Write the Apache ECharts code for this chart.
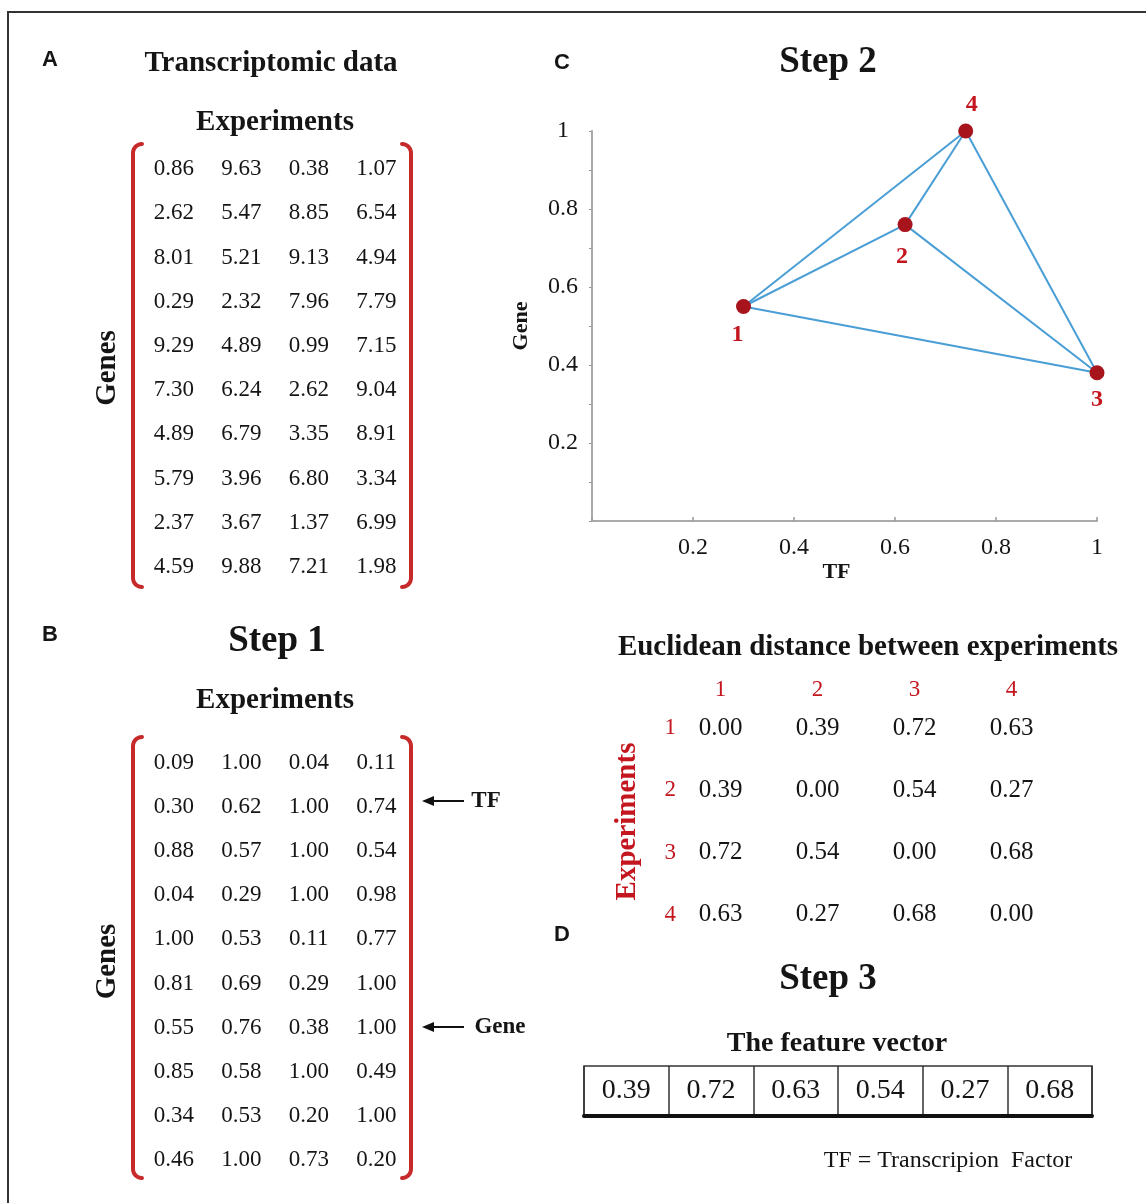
<!DOCTYPE html>
<html>
<head>
<meta charset="utf-8">
<style>html,body{margin:0;padding:0;background:#fff}#c{width:1146px;height:1203px}</style>
<script src="https://cdn.jsdelivr.net/npm/echarts@6/dist/echarts.min.js"></script>
</head>
<body>
<div id="c"></div>
<script>
// ---------- DATA ----------
const experiments = ['1', '2', '3', '4'];
const rawMatrix = [
  [0.86, 9.63, 0.38, 1.07],
  [2.62, 5.47, 8.85, 6.54],
  [8.01, 5.21, 9.13, 4.94],
  [0.29, 2.32, 7.96, 7.79],
  [9.29, 4.89, 0.99, 7.15],
  [7.30, 6.24, 2.62, 9.04],
  [4.89, 6.79, 3.35, 8.91],
  [5.79, 3.96, 6.80, 3.34],
  [2.37, 3.67, 1.37, 6.99],
  [4.59, 9.88, 7.21, 1.98]
];
const normMatrix = [
  [0.09, 1.00, 0.04, 0.11],
  [0.30, 0.62, 1.00, 0.74],
  [0.88, 0.57, 1.00, 0.54],
  [0.04, 0.29, 1.00, 0.98],
  [1.00, 0.53, 0.11, 0.77],
  [0.81, 0.69, 0.29, 1.00],
  [0.55, 0.76, 0.38, 1.00],
  [0.85, 0.58, 1.00, 0.49],
  [0.34, 0.53, 0.20, 1.00],
  [0.46, 1.00, 0.73, 0.20]
];
const tfRowIndex = 1;
const geneRowIndex = 6;
const tfValues = normMatrix[tfRowIndex];      // x of the 4 experiment points
const geneValues = normMatrix[geneRowIndex];  // y of the 4 experiment points
const edges = [[0, 3], [0, 1], [0, 2], [1, 3], [1, 2], [3, 2]];
const distMatrix = [
  [0.00, 0.39, 0.72, 0.63],
  [0.39, 0.00, 0.54, 0.27],
  [0.72, 0.54, 0.00, 0.68],
  [0.63, 0.27, 0.68, 0.00]
];
const featureVector = [0.39, 0.72, 0.63, 0.54, 0.27, 0.68];
const axisTicks = [0, 0.2, 0.4, 0.6, 0.8, 1];

// ---------- STYLE ----------
const SERIF = '"Liberation Serif", "Times New Roman", serif';
const SANS = '"Liberation Sans", Arial, sans-serif';
const RED = '#c4161f';
const TXT = '#151515';
const pointLabelOffsets = [[-6, 4], [-3, 8], [0, 2], [6, -2]];
const pointLabelPos = ['bottom', 'bottom', 'bottom', 'top'];

function cells(m) {
  const d = [];
  m.forEach((row, i) => row.forEach((v, j) => d.push([j, i, v])));
  return d;
}
const hiddenAxis = { axisLine: { show: false }, axisTick: { show: false }, axisLabel: { show: false }, splitLine: { show: false } };
const rowNames = rawMatrix.map((_, i) => 'g' + i);

const grids = [
  { left: 140, top: 147, width: 270, height: 442 },   // A
  { left: 140, top: 741, width: 270, height: 441 },   // B
  { left: 592, top: 131, width: 505, height: 390 },   // C
  { left: 672, top: 697, width: 388, height: 249 },   // distance
  { left: 584, top: 1066, width: 508, height: 50, show: true, borderColor: '#333', borderWidth: 1.5 } // D
];

const matrixX = (gi, gap) => Object.assign({
  type: 'category', gridIndex: gi, data: experiments, position: 'top',
  name: 'Experiments', nameLocation: 'middle', nameGap: gap,
  nameTextStyle: { fontFamily: SERIF, fontWeight: 'bold', fontSize: 29, color: TXT }
}, hiddenAxis);
const matrixY = (gi) => Object.assign({
  type: 'category', gridIndex: gi, data: rowNames, inverse: true,
  name: 'Genes', nameLocation: 'middle', nameGap: 18,
  nameTextStyle: { fontFamily: SERIF, fontWeight: 'bold', fontSize: 29, color: TXT }
}, hiddenAxis);

const xAxes = [
  matrixX(0, 10),
  matrixX(1, 26),
  {
    type: 'value', gridIndex: 2, min: axisTicks[0], max: axisTicks[axisTicks.length - 1], interval: 0.2,
    name: 'TF', nameLocation: 'middle', nameGap: 33,
    nameTextStyle: { fontFamily: SERIF, fontWeight: 'bold', fontSize: 22, color: TXT, padding: [0, 16, 0, 0] },
    axisLine: { lineStyle: { color: '#aaa', width: 2 } },
    axisTick: { show: true, inside: true, length: 4, lineStyle: { color: '#999', width: 1.5 } },
    splitLine: { show: false },
    axisLabel: { margin: 15, fontFamily: SERIF, fontSize: 24, color: TXT,
      formatter: v => (v === 0 ? '' : String(+v.toFixed(1))) }
  },
  Object.assign({ type: 'category', gridIndex: 3, data: experiments, position: 'top' }, hiddenAxis,
    { axisLabel: { show: true, margin: -4, fontFamily: SERIF, fontSize: 23, color: RED } }),
  {
    type: 'category', gridIndex: 4, data: featureVector.map((_, i) => 'f' + i), position: 'bottom',
    axisLine: { show: true, lineStyle: { color: '#111', width: 4 } },
    axisTick: { show: false }, axisLabel: { show: false },
    splitLine: { show: true, lineStyle: { color: '#333', width: 1.5 } }
  }
];

const yAxes = [
  matrixY(0),
  matrixY(1),
  {
    type: 'value', gridIndex: 2, min: axisTicks[0], max: axisTicks[axisTicks.length - 1], interval: 0.2,
    name: 'Gene', nameLocation: 'middle', nameGap: 60,
    nameTextStyle: { fontFamily: SERIF, fontWeight: 'bold', fontSize: 22, color: TXT },
    axisLine: { show: true, lineStyle: { color: '#aaa', width: 2 } },
    axisTick: { show: true, length: 3, lineStyle: { color: '#999' } },
    minorTick: { show: true, splitNumber: 2, length: 3, lineStyle: { color: '#999' } },
    splitLine: { show: false },
    axisLabel: { margin: 29, align: 'center', fontFamily: SERIF, fontSize: 24, color: TXT, padding: [8, 0, 0, 0],
      formatter: v => (v === 0 ? '' : String(+v.toFixed(1))) }
  },
  Object.assign({ type: 'category', gridIndex: 3, data: experiments, inverse: true,
    name: 'Experiments', nameLocation: 'middle', nameGap: 30,
    nameTextStyle: { fontFamily: SERIF, fontWeight: 'bold', fontSize: 29, color: RED } }, hiddenAxis,
    { axisLabel: { show: true, margin: -4, fontFamily: SERIF, fontSize: 23, color: RED, padding: [0, 0, 10, 0] } }),
  Object.assign({ type: 'category', gridIndex: 4, data: ['v'] }, hiddenAxis)
];

function textCells(gi, data, size) {
  return {
    type: 'scatter', xAxisIndex: gi, yAxisIndex: gi, data: data, symbolSize: 1,
    itemStyle: { color: 'rgba(0,0,0,0)', opacity: 1 }, silent: true,
    label: { show: true, position: 'inside', fontFamily: SERIF, fontSize: size, color: TXT, opacity: 1,
      textBorderWidth: 0, formatter: p => p.value[2].toFixed(2) }
  };
}

const series = [
  textCells(0, cells(rawMatrix), 23),
  textCells(1, cells(normMatrix), 23),
  textCells(3, cells(distMatrix), 25),
  textCells(4, featureVector.map((v, i) => [i, 0, v]), 28)
];
edges.forEach(e => {
  series.push({
    type: 'line', xAxisIndex: 2, yAxisIndex: 2, symbol: 'none', silent: true, z: 2,
    lineStyle: { color: '#4a9ed6', width: 2 },
    data: [[tfValues[e[0]], geneValues[e[0]]], [tfValues[e[1]], geneValues[e[1]]]]
  });
});
series.push({
  type: 'scatter', xAxisIndex: 2, yAxisIndex: 2, symbolSize: 15, z: 5, silent: true,
  itemStyle: { color: '#a8141c', opacity: 1 },
  data: tfValues.map((x, i) => ({
    value: [x, geneValues[i]], name: experiments[i],
    label: { position: pointLabelPos[i], offset: pointLabelOffsets[i] }
  })),
  label: { show: true, formatter: p => p.name, fontFamily: SERIF, fontWeight: 'bold', fontSize: 24, color: RED, opacity: 1 }
});

// ---------- DECORATION ----------
function txt(x, y, text, font, fill) {
  return { type: 'text', x: x, y: y, silent: true,
    style: { text: text, font: font, fill: fill || TXT, textAlign: 'center', textVerticalAlign: 'middle',
      align: 'center', verticalAlign: 'middle' } };
}
function bracket(x, top, bottom, dir) {
  const out = [];
  const r = 9;
  for (let k = 0; k <= 8; k++) {
    const a = Math.PI / 2 * k / 8;
    out.push([x + dir * r * (1 - Math.cos(a)), top + r - r * Math.sin(a)]);
  }
  out.reverse();
  for (let k = 0; k <= 8; k++) {
    const a = Math.PI / 2 * k / 8;
    out.push([x + dir * r * (1 - Math.cos(a)), bottom - r + r * Math.sin(a)]);
  }
  return { type: 'polyline', silent: true, shape: { points: out },
    style: { stroke: '#c62a2a', lineWidth: 4, fill: null, lineJoin: 'round', lineCap: 'round' } };
}
function arrow(x1, x2, y) {
  return [
    { type: 'line', silent: true, shape: { x1: x1 + 8, y1: y, x2: x2, y2: y }, style: { stroke: '#111', lineWidth: 2 } },
    { type: 'polygon', silent: true, shape: { points: [[x1, y], [x1 + 12, y - 5], [x1 + 12, y + 5]] }, style: { fill: '#111' } }
  ];
}

const graphics = [
  { type: 'polyline', silent: true, shape: { points: [[8, 1210], [8, 12], [1150, 12]] }, style: { stroke: '#333', lineWidth: 2, fill: null } },
  txt(50, 60, 'A', 'bold 22px ' + SANS),
  txt(50, 635, 'B', 'bold 22px ' + SANS),
  txt(562, 63, 'C', 'bold 22px ' + SANS),
  txt(562, 935, 'D', 'bold 22px ' + SANS),
  txt(271, 64, 'Transcriptomic data', 'bold 29px ' + SERIF),
  txt(277, 641, 'Step 1', 'bold 37px ' + SERIF),
  txt(828, 62, 'Step 2', 'bold 37px ' + SERIF),
  txt(828, 979, 'Step 3', 'bold 37px ' + SERIF),
  txt(868, 648, 'Euclidean distance between experiments', 'bold 29px ' + SERIF),
  txt(837, 1044, 'The feature vector', 'bold 28px ' + SERIF),
  txt(948, 1161, 'TF = Transcripion  Factor', '24px ' + SERIF),
  txt(486, 801, 'TF', 'bold 23px ' + SERIF),
  txt(500, 1027, 'Gene', 'bold 23px ' + SERIF),
  bracket(133, 144, 587, 1),
  bracket(411, 144, 587, -1),
  bracket(133, 737, 1178, 1),
  bracket(411, 737, 1178, -1)
].concat(arrow(422, 464, 801), arrow(422, 464, 1027));

const chart = echarts.init(document.getElementById('c'), null, { renderer: 'canvas' });
chart.setOption({
  backgroundColor: '#fff',
  animation: false,
  grid: grids,
  xAxis: xAxes,
  yAxis: yAxes,
  series: series,
  graphic: { elements: graphics }
});
</script>
</body>
</html>
